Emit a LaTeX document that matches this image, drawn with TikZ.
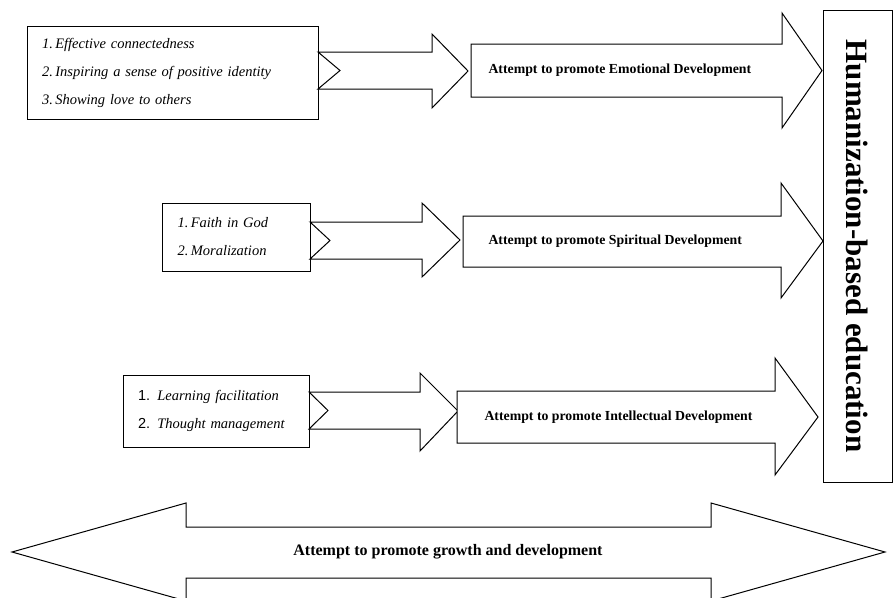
\documentclass[tikz,border=0pt]{standalone}
\usepackage{fontspec}
\setmainfont{Liberation Serif}
\setsansfont{Liberation Sans}
\usepackage{tikz}
\usetikzlibrary{arrows,shapes,backgrounds}

\begin{document}
\begin{tikzpicture}[x=1pt,y=-1pt,line width=1pt,line join=miter]
    \tikzstyle{factor}=[draw,rectangle,inner xsep=15pt,align=left,font=\fontsize{14.5}{28}\selectfont\itshape]
    \tikzstyle{label}=[anchor=west,inner sep=0pt,font=\fontsize{13.8}{15}\selectfont\bfseries]
    \tikzstyle{blockarrow}=[draw,fill=white]
    \useasboundingbox (0,0) rectangle (894,597);

    % factor boxes
    \node[factor,minimum width=291pt,minimum height=93pt,text width=261pt](emofac) at (172.5,72.5)
      {1.\,Effective connectedness\\2.\,Inspiring a sense of positive identity\\3.\,Showing love to others};
    \node[factor,minimum width=148pt,minimum height=68pt,text width=117pt](spifac) at (236,237)
      {1.\,Faith in God\\2.\,Moralization};
    \node[factor,minimum width=186pt,minimum height=72pt,text width=156pt](intfac) at (216,411)
      {{\upshape\sffamily 1.} Learning facilitation\\{\upshape\sffamily 2.} Thought management};

    % small notched arrows
    \draw[blockarrow] (318,52) -- (432,52) -- (432,34) -- (468,71) -- (432,108) -- (432,89) -- (318,89) -- (340,70.5) -- cycle;
    \draw[blockarrow] (310,222) -- (422,222) -- (422,203) -- (460,240) -- (422,277) -- (422,259) -- (310,259) -- (330,240.5) -- cycle;
    \draw[blockarrow] (309,392) -- (420,392) -- (420,373) -- (458,411) -- (420,451) -- (420,429) -- (309,429) -- (328,410.5) -- cycle;

    % big arrows
    \draw[blockarrow] (471,44) -- (782,44) -- (782,13) -- (822,70.5) -- (782,128) -- (782,97) -- (471,97) -- cycle;
    \draw[blockarrow] (463,216) -- (781,216) -- (781,183) -- (823,241) -- (781,298) -- (781,267) -- (463,267) -- cycle;
    \draw[blockarrow] (457,391) -- (775,391) -- (775,358) -- (818,417) -- (775,475) -- (775,443) -- (457,443) -- cycle;
    \node[label](emo) at (488,70) {Attempt to promote Emotional Development};
    \node[label](spi) at (488,241) {Attempt to promote Spiritual Development};
    \node[label](int) at (484,417) {Attempt to promote Intellectual Development};

    % goal
    \node[draw,rotate=-90,minimum width=472pt,minimum height=69pt,inner sep=0pt,
      font=\fontsize{31}{33}\selectfont\bfseries](goal) at (857.5,246) {Humanization-based education};

    % growth and development
    \draw[blockarrow] (12,552) -- (186,503) -- (186,527) -- (711,527) -- (711,503) -- (885,552)
      -- (711,601) -- (711,578) -- (186,578) -- (186,601) -- cycle;
    \node[font=\fontsize{16}{18}\selectfont\bfseries](growth) at (448,552) {Attempt to promote growth and development};
\end{tikzpicture}
\end{document}
